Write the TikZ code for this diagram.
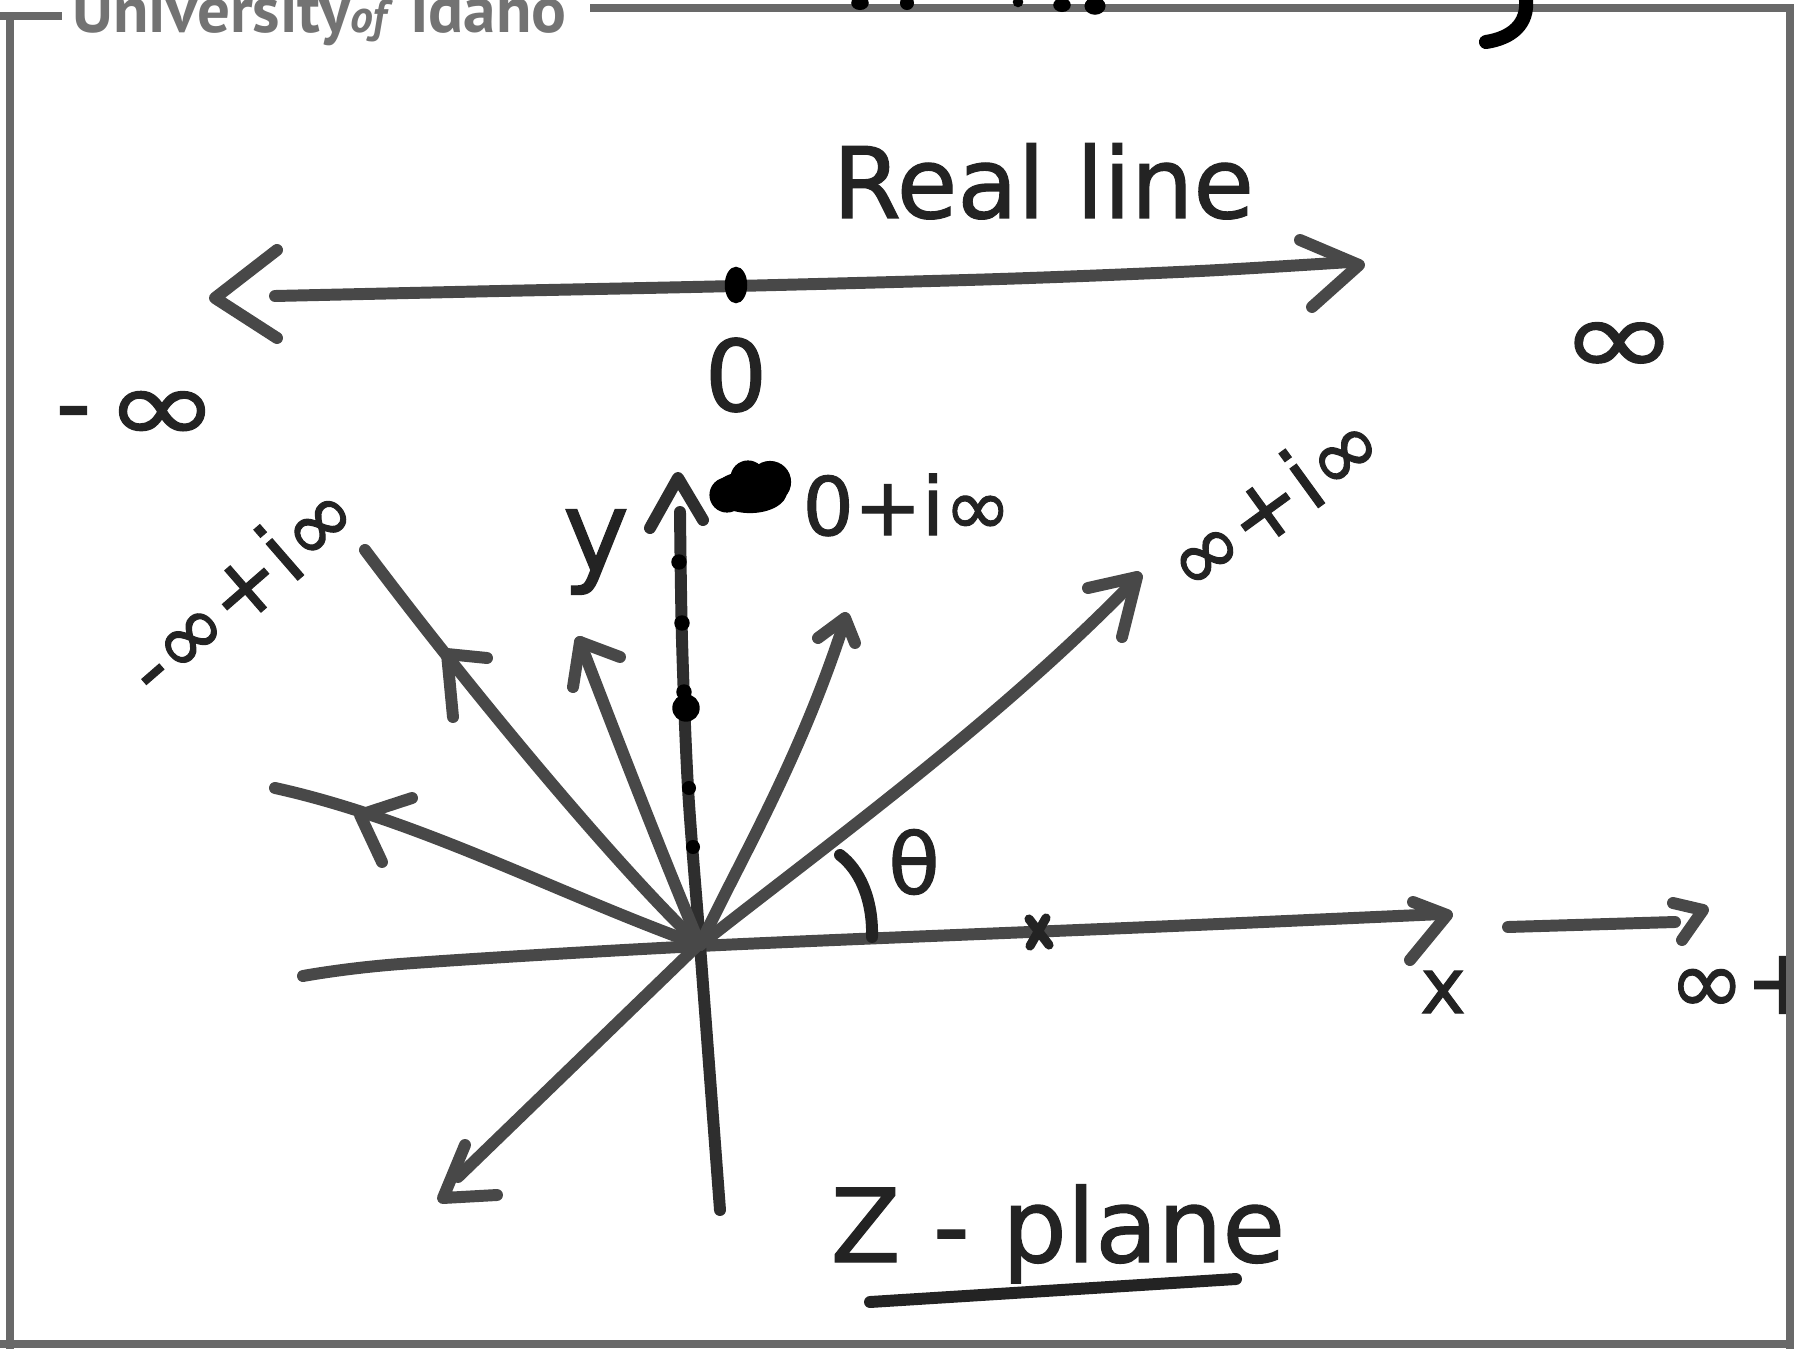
\documentclass[tikz,border=0pt]{standalone}
\usepackage{fontspec}
\setmainfont{DejaVu Sans}
\newfontfamily\hand{DejaVu Sans}[FakeBold=1.2]
\newfontfamily\uifont{PT Sans}
\definecolor{ink}{RGB}{72,72,72}
\definecolor{dark}{RGB}{35,35,35}
\definecolor{framec}{RGB}{105,105,105}
\definecolor{uigray}{RGB}{115,115,115}
\tikzset{
  stroke/.style={draw=ink, line width=3.4pt, line cap=round, line join=round},
  hw/.style={text=dark, inner sep=0pt},
  framestroke/.style={draw=framec, line width=2.3pt},
}
\begin{document}
\begin{tikzpicture}[x=0.01cm, y=-0.01cm]
\useasboundingbox (0,0) rectangle (1794,1349);
\fill[white] (0,0) rectangle (1794,1349);

% ---------- header ----------
\node[anchor=base west, text=uigray, inner sep=0pt, font=\uifont\bfseries\fontsize{18.5}{20}\selectfont] (ui) at (72,33) {University\textit{\fontsize{13}{15}\selectfont of} Idaho};

% ---------- real line ----------
\node[hw, anchor=base west, font=\hand\fontsize{28}{30}\selectfont] (real) at (832,218) {Real line};
\draw[stroke] plot[smooth] coordinates {(275,296) (500,291) (736,286) (1000,279) (1200,271) (1350,262)};
\draw[stroke] (277,250) -- (215,298) -- (277,338);
\draw[stroke] (1300,240) -- (1359,265) -- (1312,307);
\fill[black] (736,285) ellipse [x radius=3.2pt, y radius=5.2pt];
\node[hw, font=\hand\fontsize{28}{30}\selectfont] (zero) at (736,375) {0};
\node[hw, xscale=1.3, font=\hand\fontsize{31}{33}\selectfont] (pinf) at (1619,349) {∞};
\node[hw, anchor=east, font=\hand\fontsize{28}{30}\selectfont] (minfdash) at (92,422) {-};
\node[hw, xscale=1.3, font=\hand\fontsize{30}{32}\selectfont] (minf) at (162,417) {∞};

% ---------- z-plane ----------
\coordinate (O) at (700,945);
% x axis
\draw[stroke] plot[smooth] coordinates {(303,976) (400,964) (700,946) (1150,927) (1442,914)};
\draw[stroke] (1413,902) -- (1447,915) -- (1410,960);
\node[hw, font=\hand\fontsize{22}{24}\selectfont] (xl) at (1443,992) {x};
\draw[stroke] (1508,927) -- (1675,922);
\draw[stroke] (1673,903) -- (1703,910) -- (1682,940);
\node[hw, anchor=west, font=\hand\fontsize{26}{28}\selectfont] (inf2) at (1668,985) {∞+};
% small mark on x axis
\draw[stroke, draw=dark, line width=2.6pt] (1029,919) -- (1049,945) (1046,918) -- (1030,946);

% y axis
\draw[stroke, draw=black!82] plot[smooth] coordinates {(720,1210) (700,945) (688,788) (682,640) (680,512)};
\draw[stroke, draw=black!82] (650,528) -- (678,478) -- (703,520);
\fill[black] (679,562) circle[radius=2.2pt];
\fill[black] (682,623) circle[radius=2.2pt];
\fill[black] (684,692) circle[radius=2.2pt];
\fill[black] (686,708) circle[radius=3.9pt];
\fill[black] (689,788) circle[radius=2pt];
\fill[black] (693,847) circle[radius=2pt];
\node[hw, font=\hand\fontsize{32}{34}\selectfont] (yl) at (596,552) {y};

% scribbled blob and label
\fill[black] (750,492) ellipse [x radius=10.5pt, y radius=6pt];
\fill[black] (727,495) circle[radius=5pt];
\fill[black] (770,482) circle[radius=6pt];
\fill[black] (748,478) circle[radius=5pt];
\node[hw, font=\hand\fontsize{23}{25}\selectfont] (zi) at (907,505) {0+i∞};

% rays
\draw[stroke] (700,943) -- (458,1177);
\draw[stroke] (465,1145) -- (443,1198) -- (497,1195);

\draw[stroke] (700,945) .. controls (560,895) and (420,820) .. (275,788);
\draw[stroke] (412,798) -- (360,815) -- (382,862);

\draw[stroke] (700,945) .. controls (620,870) and (470,690) .. (365,550);
\draw[stroke] (487,658) -- (447,654) -- (453,717);

\draw[stroke] (700,945) .. controls (660,850) and (610,720) .. (580,642);
\draw[stroke] (620,657) -- (580,642) -- (573,687);

\draw[stroke] (700,945) .. controls (740,860) and (800,760) .. (845,620);
\draw[stroke] (818,638) -- (845,618) -- (855,643);

\draw[stroke] (700,945) .. controls (820,850) and (1000,720) .. (1135,580);
\draw[stroke] (1088,588) -- (1137,577) -- (1122,637);

\node[hw, rotate=36, font=\hand\fontsize{25}{27}\selectfont] (ri) at (1272,500) {∞+i∞};
\node[hw, rotate=41, font=\hand\fontsize{25}{27}\selectfont] (li) at (239,587) {-∞+i∞};

% angle
\draw[stroke, draw=dark] (840,855) .. controls (860,870) and (873,900) .. (872,937);
\node[hw, font=\hand\fontsize{24}{26}\selectfont] (th) at (914,862) {θ};

% title
\node[hw, anchor=base west, font=\hand\fontsize{29}{31}\selectfont] (zp) at (830,1262) {Z - plane};
\draw[stroke, draw=dark] (870,1302) -- (1236,1279);

% ---------- frame ----------
\draw[framestroke] (0,16) -- (62,16);
\draw[framestroke] (10,16) -- (10,1349);
\draw[framestroke] (590,8) -- (1794,8);
\draw[framestroke] (1790,8) -- (1790,1349);
\draw[framestroke] (0,1344) -- (1794,1344);

% cut-off handwriting at the top edge
\fill[black] (860,3) ellipse [x radius=2.5pt, y radius=2pt];
\fill[black] (907,3) ellipse [x radius=2pt, y radius=2pt];
\fill[black] (1018,2) ellipse [x radius=1.5pt, y radius=1.5pt];
\fill[black] (1062,5) ellipse [x radius=2.5pt, y radius=2pt];
\fill[black] (1095,6) ellipse [x radius=3pt, y radius=2.5pt];
\draw[black, line width=4pt, line cap=round] (1526,0) .. controls (1528,24) and (1512,38) .. (1486,42);
\end{tikzpicture}
\end{document}
